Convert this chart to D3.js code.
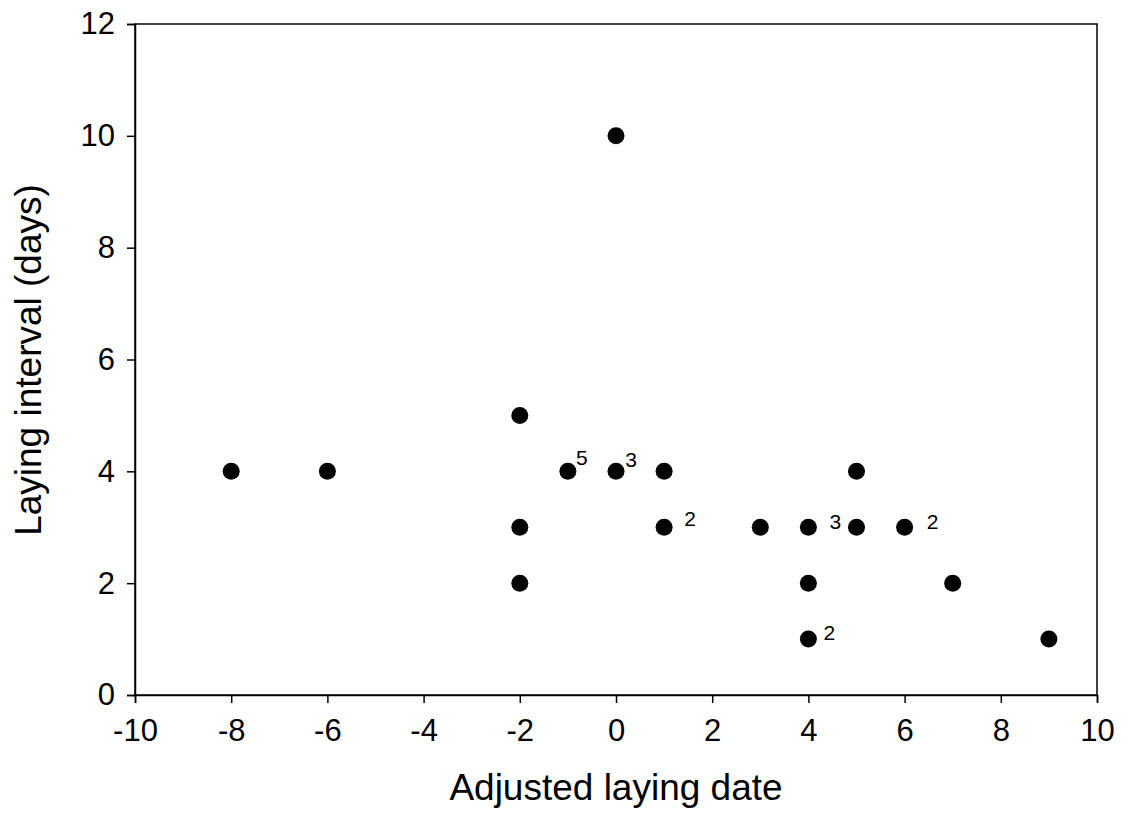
<!DOCTYPE html>
<html>
<head>
<meta charset="utf-8">
<script src="https://cdn.jsdelivr.net/npm/d3@7"></script>
<style>
  body { margin: 0; background: #fff; }
  text { font-family: "Liberation Sans", Arial, sans-serif; fill: #000; }
</style>
</head>
<body>
<div id="chart"></div>
<script>
// Data
var layDate  = [-8, -6, -2, -2, -2, -1, 0, 0, 1, 1, 3, 4, 4, 4, 5, 5, 6, 7, 9];
var interval = [ 4,  4,  5,  3,  2,  4, 10, 4, 4, 3, 3, 3, 2, 1, 4, 3, 3, 2, 1];
// number of overlapping nests at a point (1 = no label)
var counts   = [ 1,  1,  1,  1,  1,  5,  1, 3, 1, 2, 1, 3, 1, 2, 1, 1, 2, 1, 1];
var xTicks = [-10, -8, -6, -4, -2, 0, 2, 4, 6, 8, 10];
var yTicks = [0, 2, 4, 6, 8, 10, 12];

// label offsets (px) beside the dot, by point index
var labelOffset = {5: [14, -14], 7: [15, -12], 9: [26, -9], 11: [27, -6], 13: [21, -6], 16: [28, -6]};

var width = 1131, height = 815;
var margin = { top: 24, right: 34, bottom: 120, left: 135 };

var svg = d3.select("#chart").append("svg")
    .attr("width", width)
    .attr("height", height);

var x = d3.scaleLinear().domain([-10, 10]).range([margin.left, width - margin.right]);
var y = d3.scaleLinear().domain([0, 12]).range([height - margin.bottom, margin.top]);

// frame (top and right)
svg.append("rect")
    .attr("x", x(-10))
    .attr("y", y(12))
    .attr("width", x(10) - x(-10))
    .attr("height", y(0) - y(12))
    .attr("fill", "none")
    .attr("stroke", "#000")
    .attr("stroke-width", 1.5);

// x axis
var xAxis = svg.append("g")
    .attr("transform", "translate(0," + y(0) + ")")
    .call(d3.axisBottom(x).tickValues(xTicks).tickSize(8).tickPadding(16).tickFormat(function (d) { return String(d); }));
xAxis.selectAll("text").style("font-size", "31px");

// y axis
var yAxis = svg.append("g")
    .attr("transform", "translate(" + x(-10) + ",0)")
    .call(d3.axisLeft(y).tickValues(yTicks).tickSize(8).tickPadding(12).tickFormat(d3.format("d")));
yAxis.selectAll("text").style("font-size", "31px");

svg.selectAll(".domain").attr("stroke", "#000").attr("stroke-width", 1.5);
svg.selectAll(".tick line").attr("stroke", "#000").attr("stroke-width", 1.5);

// points
var pts = layDate.map(function (d, i) { return { x: d, y: interval[i], n: counts[i], i: i }; });

svg.append("g").selectAll("circle")
    .data(pts)
    .enter().append("circle")
    .attr("cx", function (d) { return x(d.x); })
    .attr("cy", function (d) { return y(d.y); })
    .attr("r", 8.5)
    .attr("fill", "#000");

// overlap counts
svg.append("g").selectAll("text")
    .data(pts.filter(function (d) { return d.n > 1; }))
    .enter().append("text")
    .attr("x", function (d) { return x(d.x) + labelOffset[d.i][0]; })
    .attr("y", function (d) { return y(d.y) + labelOffset[d.i][1]; })
    .attr("dy", "0.35em")
    .attr("text-anchor", "middle")
    .style("font-size", "21px")
    .text(function (d) { return d.n; });

// axis titles
svg.append("text")
    .attr("x", (x(-10) + x(10)) / 2)
    .attr("y", 800)
    .attr("text-anchor", "middle")
    .style("font-size", "37px")
    .text("Adjusted laying date");

svg.append("text")
    .attr("transform", "translate(41," + 360 + ") rotate(-90)")
    .attr("text-anchor", "middle")
    .style("font-size", "37px")
    .text("Laying interval (days)");
</script>
</body>
</html>
